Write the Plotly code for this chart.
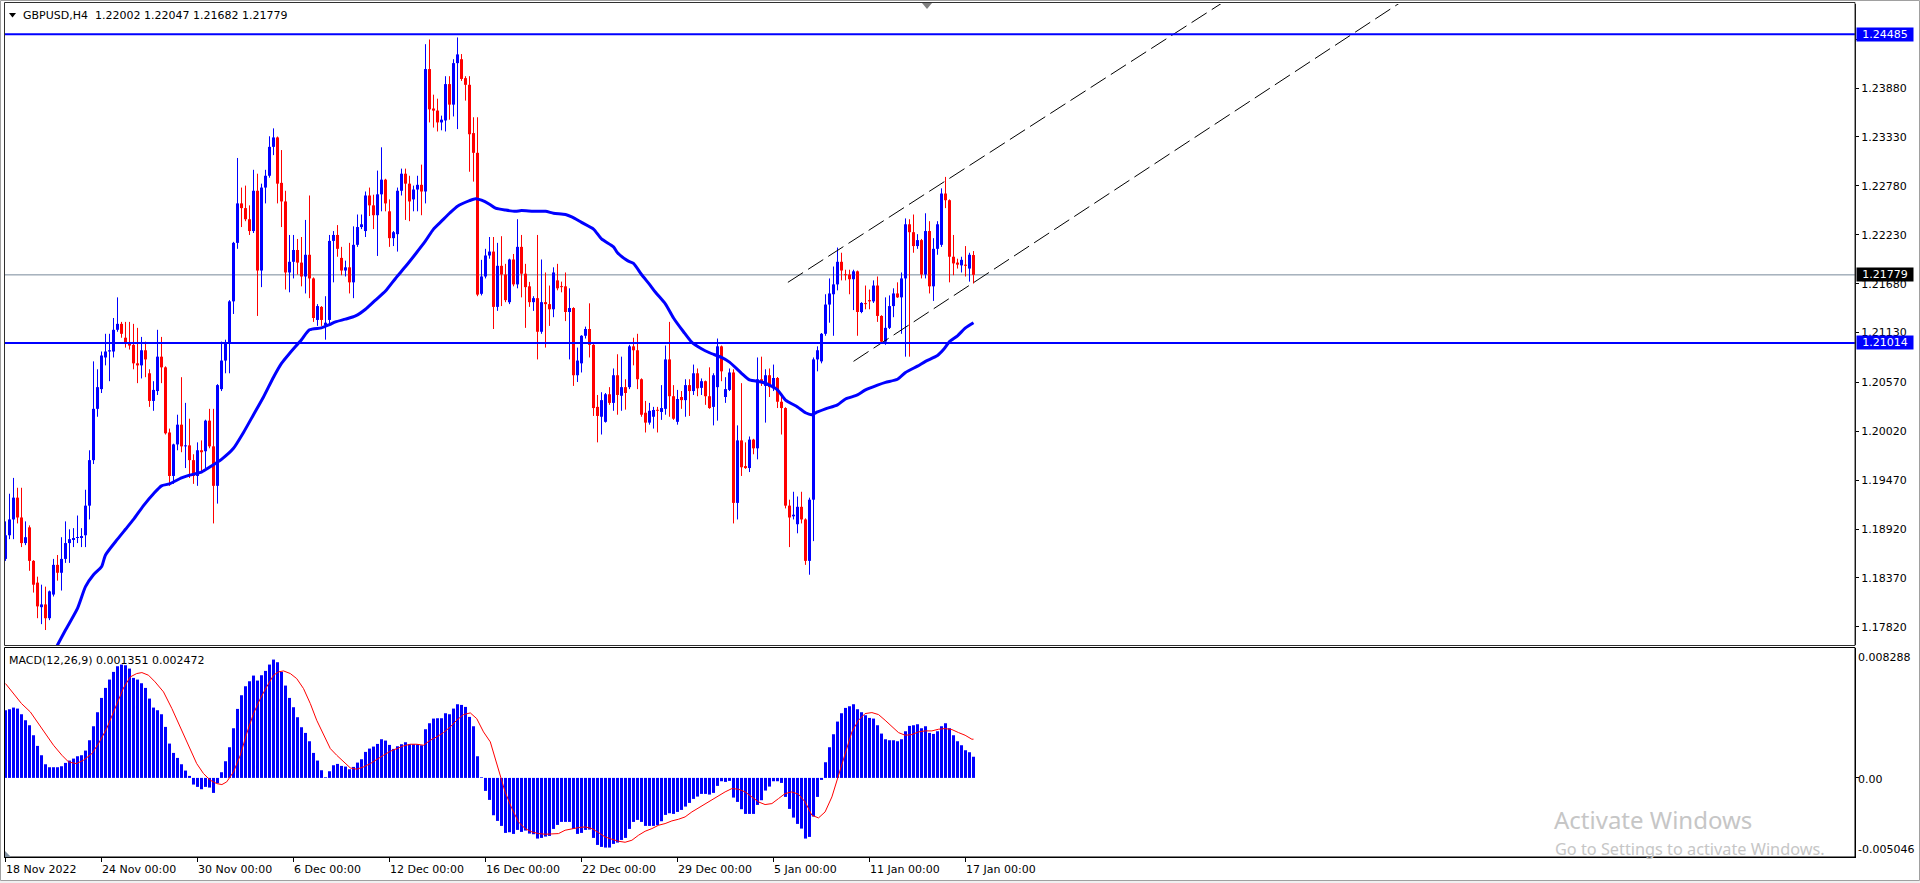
import plotly.graph_objects as go

# ---------------- data ----------------
symbol_title = "GBPUSD,H4\u00a0\u00a01.22002 1.22047 1.21682 1.21779"
macd_title = "MACD(12,26,9) 0.001351 0.002472"

opens = [
    1.18584, 1.18850, 1.19028, 1.19273, 1.19050, 1.18762, 1.18939, 1.18562, 1.18317, 1.18041,
    1.18072, 1.17917, 1.18183, 1.18517, 1.18428, 1.18584, 1.18762, 1.18797, 1.18819, 1.18819,
    1.18850, 1.19183, 1.19695, 1.20272, 1.20494, 1.20850, 1.20917, 1.20917, 1.21161, 1.21228,
    1.21072, 1.21006, 1.20992, 1.20784, 1.20761, 1.20931, 1.20672, 1.20361, 1.20472, 1.20859,
    1.20739, 1.20006, 1.19517, 1.19872, 1.20094, 1.19850, 1.19861, 1.19695, 1.19517, 1.19806,
    1.19795, 1.20139, 1.19850, 1.19406, 1.20494, 1.20815, 1.21006, 1.21481, 1.22139, 1.22583,
    1.22530, 1.22405, 1.22272, 1.22725, 1.21828, 1.22761, 1.22894, 1.23219, 1.23325, 1.22814,
    1.22605, 1.21806, 1.21926, 1.22059, 1.21917, 1.21761, 1.22005, 1.21739, 1.21272, 1.21419,
    1.21214, 1.21272, 1.22161, 1.22228, 1.21970, 1.21828, 1.21864, 1.21695, 1.22117, 1.22317,
    1.22272, 1.22672, 1.22561, 1.22450, 1.22685, 1.22850, 1.22494, 1.22192, 1.22237, 1.22725,
    1.22917, 1.22805, 1.22628, 1.22739, 1.22792, 1.22717, 1.24094, 1.23650, 1.23627, 1.23494,
    1.23516, 1.23925, 1.23694, 1.24161, 1.24205, 1.23992, 1.23917, 1.23374, 1.23152, 1.21566,
    1.21761, 1.21997, 1.22041, 1.21419, 1.21881, 1.21783, 1.21472, 1.21952, 1.21672, 1.22094,
    1.21792, 1.21650, 1.21472, 1.21517, 1.21139, 1.21472, 1.21450, 1.21392, 1.21717, 1.21650,
    1.21650, 1.21361, 1.21406, 1.20650, 1.20784, 1.21094, 1.21170, 1.20992, 1.20294, 1.20183,
    1.20126, 1.20436, 1.20339, 1.20650, 1.20419, 1.20516, 1.20516, 1.20975, 1.20931, 1.20605,
    1.20228, 1.20117, 1.20183, 1.20259, 1.20237, 1.20272, 1.20828, 1.20414, 1.20126, 1.20405,
    1.20370, 1.20539, 1.20472, 1.20672, 1.20508, 1.20583, 1.20414, 1.20294, 1.20516, 1.20975,
    1.20405, 1.20485, 1.20681, 1.19214, 1.19917, 1.19628, 1.19606, 1.19926, 1.19828, 1.20605,
    1.20530, 1.20650, 1.20503, 1.20619, 1.20352, 1.20281, 1.19183, 1.19063, 1.18974, 1.19170,
    1.19028, 1.18562, 1.19250, 1.20828, 1.20806, 1.21116, 1.21445, 1.21561, 1.21672, 1.21926,
    1.21783, 1.21783, 1.21730, 1.21819, 1.21361, 1.21459, 1.21495, 1.21481, 1.21659, 1.21317,
    1.21028, 1.21183, 1.21428, 1.21570, 1.21526, 1.21739, 1.22348, 1.22259, 1.22103, 1.22170,
    1.21783, 1.22272, 1.21650, 1.22072, 1.22117, 1.22694, 1.22619, 1.21983, 1.21917, 1.21886,
    1.21894, 1.21850, 1.22002]

highs = [
    1.19006, 1.19317, 1.19495, 1.19384, 1.19384, 1.19006, 1.18961, 1.18570, 1.18384, 1.18294,
    1.18272, 1.18228, 1.18584, 1.18628, 1.18828, 1.19006, 1.18917, 1.18930, 1.19072, 1.18930,
    1.19362, 1.19806, 1.20806, 1.20717, 1.20917, 1.21116, 1.21116, 1.21294, 1.21526, 1.21250,
    1.21250, 1.21250, 1.21228, 1.21183, 1.21081, 1.21028, 1.20717, 1.20583, 1.21161, 1.21081,
    1.20750, 1.20050, 1.19880, 1.20206, 1.20628, 1.20339, 1.20161, 1.19761, 1.19895, 1.19917,
    1.20150, 1.20272, 1.20272, 1.20550, 1.21028, 1.21050, 1.21495, 1.22150, 1.23094, 1.22761,
    1.22783, 1.22561, 1.22961, 1.22917, 1.22805, 1.22961, 1.23338, 1.23427, 1.23335, 1.23183,
    1.22725, 1.22228, 1.22228, 1.22183, 1.22205, 1.22397, 1.22672, 1.21750, 1.21450, 1.21428,
    1.21539, 1.22228, 1.22272, 1.22339, 1.22094, 1.21939, 1.22139, 1.22325, 1.22458, 1.22458,
    1.22717, 1.22761, 1.22681, 1.22952, 1.23214, 1.22860, 1.22628, 1.22272, 1.22761, 1.22974,
    1.22974, 1.22894, 1.22783, 1.22894, 1.23019, 1.24374, 1.24427, 1.23806, 1.23761, 1.23570,
    1.24014, 1.24014, 1.24205, 1.24450, 1.24263, 1.24014, 1.24014, 1.23552, 1.23552, 1.21948,
    1.22072, 1.22205, 1.22205, 1.22139, 1.22214, 1.21903, 1.21961, 1.22014, 1.22405, 1.22228,
    1.21903, 1.21700, 1.21539, 1.22228, 1.21952, 1.21806, 1.21659, 1.21864, 1.21903, 1.21703,
    1.21806, 1.21628, 1.21415, 1.20961, 1.21100, 1.21197, 1.21459, 1.21000, 1.20428, 1.20459,
    1.20450, 1.20516, 1.20726, 1.20886, 1.20859, 1.20605, 1.20992, 1.21072, 1.21116, 1.20615,
    1.20361, 1.20339, 1.20294, 1.20294, 1.20539, 1.20984, 1.21250, 1.20539, 1.20485, 1.20472,
    1.20605, 1.20605, 1.20770, 1.20726, 1.20614, 1.20590, 1.20739, 1.20672, 1.21063, 1.20984,
    1.20628, 1.20726, 1.20717, 1.20086, 1.20561, 1.19895, 1.19961, 1.19935, 1.20850, 1.20859,
    1.20717, 1.20726, 1.20770, 1.20630, 1.20428, 1.20290, 1.19250, 1.19339, 1.19286, 1.19339,
    1.19040, 1.19273, 1.20850, 1.20975, 1.21125, 1.21561, 1.21739, 1.21873, 1.22086, 1.22028,
    1.21837, 1.21837, 1.21837, 1.21828, 1.21472, 1.21659, 1.21614, 1.21717, 1.21761, 1.21325,
    1.21526, 1.21548, 1.21628, 1.21695, 1.21806, 1.22414, 1.22405, 1.22458, 1.22237, 1.22183,
    1.22472, 1.22383, 1.22192, 1.22383, 1.22752, 1.22881, 1.22628, 1.22228, 1.21961, 1.21983,
    1.22103, 1.22028, 1.22047]

lows = [
    1.18562, 1.18806, 1.18806, 1.18983, 1.18717, 1.18739, 1.18450, 1.18205, 1.17917, 1.17850,
    1.17784, 1.17895, 1.18161, 1.18339, 1.18228, 1.18539, 1.18539, 1.18717, 1.18762, 1.18717,
    1.18717, 1.19028, 1.19651, 1.20183, 1.20450, 1.20761, 1.20583, 1.20850, 1.21139, 1.21072,
    1.20961, 1.20939, 1.20717, 1.20561, 1.20614, 1.20628, 1.20294, 1.20250, 1.20428, 1.20561,
    1.19983, 1.19406, 1.19428, 1.19806, 1.19784, 1.19606, 1.19495, 1.19428, 1.19406, 1.19561,
    1.19606, 1.19828, 1.18983, 1.19206, 1.20472, 1.20672, 1.20672, 1.21339, 1.22072, 1.22317,
    1.22383, 1.22228, 1.22250, 1.21317, 1.21641, 1.22583, 1.22872, 1.23126, 1.22583, 1.22317,
    1.21614, 1.21583, 1.21739, 1.21783, 1.21650, 1.21570, 1.21517, 1.21250, 1.21205, 1.21205,
    1.21050, 1.21205, 1.21695, 1.21983, 1.21775, 1.21761, 1.21570, 1.21517, 1.22094, 1.22294,
    1.22205, 1.22441, 1.22294, 1.21992, 1.22494, 1.22494, 1.22094, 1.22103, 1.22041, 1.22672,
    1.22397, 1.22383, 1.22494, 1.22494, 1.22450, 1.22583, 1.23494, 1.23436, 1.23392, 1.23405,
    1.23392, 1.23525, 1.23561, 1.23419, 1.23961, 1.23739, 1.22939, 1.22828, 1.21539, 1.21548,
    1.21739, 1.21961, 1.21170, 1.21374, 1.21428, 1.21472, 1.21450, 1.21650, 1.21628, 1.21526,
    1.21183, 1.21419, 1.21374, 1.20828, 1.21116, 1.20961, 1.21205, 1.21303, 1.21605, 1.21583,
    1.21259, 1.20828, 1.20530, 1.20574, 1.20681, 1.21063, 1.20850, 1.20192, 1.19895, 1.19983,
    1.20117, 1.20317, 1.20250, 1.20206, 1.20250, 1.20263, 1.20494, 1.20761, 1.20494, 1.20183,
    1.20006, 1.20094, 1.20050, 1.20006, 1.20148, 1.20206, 1.20183, 1.20148, 1.20094, 1.20272,
    1.20183, 1.20192, 1.20428, 1.20414, 1.20428, 1.20317, 1.20272, 1.20086, 1.20139, 1.20583,
    1.20339, 1.20472, 1.18983, 1.19028, 1.19517, 1.19597, 1.19561, 1.19761, 1.19704, 1.20530,
    1.20117, 1.20405, 1.20472, 1.20281, 1.19983, 1.19152, 1.18717, 1.19028, 1.18872, 1.18983,
    1.18517, 1.18406, 1.18784, 1.20694, 1.20784, 1.21094, 1.21241, 1.21094, 1.21605, 1.21717,
    1.21717, 1.21561, 1.21383, 1.21094, 1.21348, 1.21392, 1.21392, 1.21463, 1.21250, 1.21020,
    1.20992, 1.21170, 1.21303, 1.21520, 1.21116, 1.20859, 1.20859, 1.22028, 1.22072, 1.21739,
    1.21739, 1.21570, 1.21486, 1.22005, 1.22094, 1.22530, 1.21695, 1.21775, 1.21850, 1.21806,
    1.21761, 1.21703, 1.21682]

closes = [
    1.18850, 1.19028, 1.19273, 1.19050, 1.18762, 1.18828, 1.18562, 1.18294, 1.18050, 1.18072,
    1.17917, 1.18219, 1.18517, 1.18428, 1.18584, 1.18762, 1.18806, 1.18819, 1.18825, 1.18841,
    1.19183, 1.19695, 1.20272, 1.20516, 1.20872, 1.20917, 1.20931, 1.21161, 1.21228, 1.21116,
    1.21006, 1.20984, 1.20784, 1.20761, 1.20931, 1.20828, 1.20361, 1.20485, 1.20859, 1.20739,
    1.19997, 1.19517, 1.19872, 1.20094, 1.19850, 1.19861, 1.19695, 1.19517, 1.19806, 1.19784,
    1.20139, 1.19850, 1.19406, 1.20539, 1.20815, 1.21006, 1.21481, 1.22139, 1.22583, 1.22530,
    1.22405, 1.22272, 1.22725, 1.21828, 1.22761, 1.22894, 1.23219, 1.23325, 1.22805, 1.22605,
    1.21806, 1.21926, 1.22059, 1.21917, 1.21761, 1.22005, 1.21739, 1.21294, 1.21428, 1.21272,
    1.21241, 1.22161, 1.22228, 1.22072, 1.21828, 1.21864, 1.21695, 1.22117, 1.22317, 1.22348,
    1.22672, 1.22561, 1.22450, 1.22685, 1.22850, 1.22583, 1.22192, 1.22259, 1.22725, 1.22917,
    1.22805, 1.22605, 1.22739, 1.22792, 1.22717, 1.24094, 1.23641, 1.23627, 1.23494, 1.23525,
    1.23925, 1.23694, 1.24161, 1.24259, 1.23983, 1.23917, 1.23361, 1.23152, 1.21557, 1.21761,
    1.21997, 1.22041, 1.21419, 1.21881, 1.21783, 1.21495, 1.21952, 1.21672, 1.22094, 1.21792,
    1.21641, 1.21472, 1.21517, 1.21139, 1.21472, 1.21450, 1.21392, 1.21806, 1.21628, 1.21641,
    1.21361, 1.21406, 1.20650, 1.20815, 1.21094, 1.21170, 1.20992, 1.20281, 1.20192, 1.20370,
    1.20436, 1.20339, 1.20650, 1.20428, 1.20516, 1.20450, 1.20975, 1.20931, 1.20605, 1.20206,
    1.20117, 1.20250, 1.20259, 1.20250, 1.20281, 1.20828, 1.20414, 1.20161, 1.20383, 1.20370,
    1.20539, 1.20472, 1.20672, 1.20503, 1.20583, 1.20414, 1.20281, 1.20650, 1.20975, 1.20694,
    1.20494, 1.20681, 1.19214, 1.19917, 1.19615, 1.19606, 1.19926, 1.19828, 1.20605, 1.20561,
    1.20650, 1.20516, 1.20619, 1.20352, 1.20281, 1.19183, 1.19050, 1.19081, 1.19170, 1.19028,
    1.18562, 1.19250, 1.20828, 1.20931, 1.21116, 1.21445, 1.21570, 1.21672, 1.21926, 1.21828,
    1.21775, 1.21730, 1.21819, 1.21361, 1.21463, 1.21450, 1.21481, 1.21659, 1.21317, 1.21028,
    1.21183, 1.21428, 1.21570, 1.21526, 1.21739, 1.22348, 1.22259, 1.22103, 1.22170, 1.21783,
    1.22272, 1.21650, 1.22072, 1.22348, 1.22694, 1.22619, 1.21983, 1.21908, 1.21894, 1.21948,
    1.21881, 1.22005, 1.21779]

# moving average, read as (bar index, price) points
ma_readings = [
    (10, 1.17360), (13, 1.17615), (15, 1.17784), (18, 1.18028), (20, 1.18272), (22, 1.18406),
    (24, 1.18495), (25, 1.18628), (28, 1.18806), (30, 1.18917), (32, 1.19028), (34.5, 1.19183),
    (37, 1.19317), (39, 1.19406), (41, 1.19428), (44, 1.19495), (46, 1.19526), (49, 1.19561),
    (51, 1.19615), (54, 1.19704), (57, 1.19828), (59.5, 1.20006), (62, 1.20206), (64.5, 1.20405),
    (67, 1.20628), (69, 1.20784), (71, 1.20895), (74, 1.21050), (76, 1.21161), (79, 1.21183),
    (81, 1.21219), (82.5, 1.21250), (85, 1.21281), (87.5, 1.21317), (90, 1.21392), (92.5, 1.21495),
    (95, 1.21597), (97.5, 1.21739), (100, 1.21873), (102.5, 1.22014), (105, 1.22161), (107, 1.22294),
    (109, 1.22383), (111, 1.22472), (113, 1.22552), (116, 1.22614), (117.5, 1.22636), (119, 1.22619),
    (121, 1.22574), (122.5, 1.22530), (125, 1.22508), (127.5, 1.22494), (129, 1.22503), (132, 1.22494),
    (135, 1.22494), (137, 1.22472), (140, 1.22458), (141.7, 1.22428), (144, 1.22370), (147, 1.22294),
    (149, 1.22183), (152, 1.22094), (153, 1.22028), (155.5, 1.21939), (157, 1.21908), (159, 1.21783),
    (161, 1.21672), (162.5, 1.21583), (165, 1.21450), (167, 1.21294), (169.5, 1.21139), (171.6, 1.21019),
    (174, 1.20948), (176, 1.20903), (179, 1.20850), (181, 1.20797), (184, 1.20672), (186, 1.20597),
    (189, 1.20574), (191, 1.20539), (193, 1.20485), (195, 1.20370), (198, 1.20294), (200, 1.20228),
    (201.5, 1.20206), (203, 1.20237), (205, 1.20272), (208, 1.20317), (210, 1.20383), (213, 1.20428),
    (215, 1.20485), (218, 1.20539), (220, 1.20570), (223, 1.20605), (225, 1.20681), (228, 1.20752),
    (230, 1.20806), (233, 1.20872), (234.5, 1.20939), (236, 1.21028), (238, 1.21094), (240, 1.21183),
    (242, 1.21241)]

resistance_level = 1.24485
support_level = 1.21014
bid_price = 1.21779

# channel (dashed trend rays), two read anchors each: (bar index, price)
channel_upper = [(195.6, 1.21695), (242.4, 1.23050)]
channel_lower = [(212.0, 1.20806), (243.6, 1.21739)]

macd_hist = [
    0.004317, 0.004381, 0.004487, 0.004423, 0.004062, 0.003679, 0.003360, 0.002722, 0.002042, 0.001446,
    0.000872, 0.000681, 0.000681, 0.000681, 0.000744, 0.000957, 0.001106, 0.001233, 0.001382, 0.001446,
    0.001744, 0.002403, 0.003296, 0.004190, 0.005104, 0.005742, 0.006274, 0.006763, 0.007124, 0.007231,
    0.007188, 0.006975, 0.006380, 0.006274, 0.006040, 0.005742, 0.005061, 0.004487, 0.004317, 0.004062,
    0.003254, 0.002190, 0.001595, 0.001276, 0.000872, 0.000468, 0.000128, -0.000425, -0.000574, -0.000723,
    -0.000574, -0.000617, -0.000957, -0.000340, 0.000362, 0.001063, 0.001957, 0.003169, 0.004402, 0.005274,
    0.005848, 0.006167, 0.006529, 0.006210, 0.006550, 0.006827, 0.007231, 0.007550, 0.007380, 0.006763,
    0.005891, 0.005104, 0.004509, 0.003871, 0.003233, 0.002871, 0.002339, 0.001595, 0.001106, 0.000489,
    0.000043, 0.000425, 0.000808, 0.000893, 0.000766, 0.000723, 0.000553, 0.000702, 0.000978, 0.001191,
    0.001659, 0.001871, 0.001999, 0.002169, 0.002467, 0.002382, 0.002105, 0.001850, 0.002020, 0.002148,
    0.002276, 0.002148, 0.002148, 0.002148, 0.002084, 0.003105, 0.003488, 0.003785, 0.003807, 0.003807,
    0.004126, 0.004062, 0.004423, 0.004700, 0.004657, 0.004530, 0.003892, 0.003296, 0.001382, 0.000043,
    -0.000829, -0.001404, -0.002382, -0.002743, -0.003062, -0.003509, -0.003466, -0.003573, -0.003318, -0.003445,
    -0.003360, -0.003552, -0.003594, -0.003871, -0.003828, -0.003743, -0.003700, -0.003254, -0.002999, -0.002807,
    -0.002807, -0.002807, -0.003254, -0.003573, -0.003509, -0.003318, -0.003296, -0.003828, -0.004275, -0.004402,
    -0.004445, -0.004445, -0.004211, -0.004126, -0.003956, -0.003828, -0.003254, -0.002807, -0.002680, -0.002807,
    -0.003062, -0.003062, -0.003062, -0.003020, -0.002765, -0.002361, -0.002254, -0.002297, -0.002169, -0.002042,
    -0.001829, -0.001595, -0.001340, -0.001191, -0.001021, -0.001021, -0.001063, -0.000957, -0.000510, -0.000213,
    -0.000255, -0.000191, -0.001255, -0.001531, -0.001999, -0.002297, -0.002297, -0.002297, -0.001723, -0.001425,
    -0.000808, -0.000553, -0.000213, -0.000213, -0.000319, -0.001212, -0.001978, -0.002531, -0.002935, -0.003233,
    -0.003871, -0.003764, -0.002467, -0.001212, -0.000128, 0.001000, 0.001957, 0.002786, 0.003594, 0.004126,
    0.004466, 0.004572, 0.004700, 0.004381, 0.004190, 0.003998, 0.003828, 0.003785, 0.003360, 0.002829,
    0.002467, 0.002403, 0.002403, 0.002339, 0.002467, 0.002977, 0.003318, 0.003360, 0.003424, 0.003169,
    0.003296, 0.002871, 0.002807, 0.002977, 0.003296, 0.003488, 0.003169, 0.002722, 0.002339, 0.002084,
    0.001765, 0.001638, 0.001351]

macd_signal_readings = [
    (0, 0.006019), (2, 0.005381), (4, 0.004743), (6.2, 0.004211), (8.25, 0.003467), (9.9, 0.002892),
    (12, 0.002084), (14.1, 0.001446), (15.75, 0.001021), (17.7, 0.000914), (19.5, 0.001127),
    (21.6, 0.001552), (23.25, 0.002190), (25.3, 0.003148), (27.4, 0.004423), (29.5, 0.005742),
    (31.2, 0.006444), (32.8, 0.006657), (34.1, 0.006720), (35.75, 0.006550), (37.4, 0.006125),
    (39.5, 0.005487), (41.6, 0.004423), (43.7, 0.003254), (45.75, 0.002084), (47.8, 0.000914),
    (49.5, 0.000276), (51.2, -0.000149), (52.8, -0.000362), (54.1, -0.000425), (55.3, -0.000255),
    (57, 0.000383), (58.7, 0.001446), (60.3, 0.002829), (62, 0.004105), (63.7, 0.005061),
    (65.3, 0.005806), (67, 0.006550), (68.25, 0.006763), (69.5, 0.006827), (71.2, 0.006657),
    (72.8, 0.006337), (74.5, 0.005700), (76.2, 0.004743), (77.8, 0.003679), (79.5, 0.002722),
    (81.2, 0.001871), (82.8, 0.001446), (84.5, 0.001021), (86.2, 0.000638), (87.8, 0.000553),
    (89.5, 0.000702), (91.2, 0.000914), (92.8, 0.001191), (94.5, 0.001446), (96.2, 0.001701),
    (97.8, 0.001871), (99.5, 0.002042), (101.2, 0.002148), (102.8, 0.002148), (104.5, 0.002084),
    (106.2, 0.002403), (107.8, 0.002616), (109.5, 0.002892), (111.2, 0.003254), (112.8, 0.003679),
    (114.5, 0.004041), (116.2, 0.004147), (117.8, 0.003785), (119.5, 0.002935), (121.2, 0.002297),
    (122.4, 0.001233), (123.7, 0.000170), (124.9, -0.000893), (126.6, -0.001957), (128.25, -0.002807),
    (129.9, -0.003233), (131.6, -0.003445), (133.25, -0.003552), (134.9, -0.003594), (136.6, -0.003573),
    (138.25, -0.003552), (139.9, -0.003339), (141.6, -0.003233), (143.25, -0.003169), (144.9, -0.003126),
    (146.6, -0.003233), (148.25, -0.003488), (149.9, -0.003764), (151.6, -0.003913), (153.25, -0.004041),
    (154.9, -0.004105), (156.6, -0.003977), (158.25, -0.003658), (159.9, -0.003403), (161.6, -0.003233),
    (163.25, -0.003020), (164.9, -0.002914), (166.6, -0.002743), (168.25, -0.002637), (169.9, -0.002488),
    (171.6, -0.002169), (173.25, -0.001914), (174.9, -0.001638), (176.6, -0.001425), (178.25, -0.001148),
    (179.9, -0.000893), (181.6, -0.000681), (183.25, -0.000723), (184.9, -0.000893), (186.6, -0.001212),
    (188.25, -0.001531), (189.9, -0.001701), (191.6, -0.001638), (193.25, -0.001319), (194.9, -0.001000),
    (196.6, -0.000893), (198.25, -0.001042), (199.9, -0.001531), (201.6, -0.002382), (203.25, -0.002552),
    (204.9, -0.002169), (206.6, -0.001212), (208.25, 0.000170), (209.9, 0.001659), (211.6, 0.002935),
    (213.25, 0.003679), (214.9, 0.004105), (216.6, 0.004168), (218.25, 0.004041), (219.9, 0.003679),
    (221.6, 0.003254), (223.25, 0.002892), (224.9, 0.002722), (226.6, 0.002765), (228.25, 0.002935),
    (229.9, 0.002999), (231.6, 0.002999), (233.25, 0.003105), (234.9, 0.003148), (236.6, 0.003084),
    (238.25, 0.002892), (239.9, 0.002722), (241.6, 0.002467), (242, 0.002472)]

time_tick_bars = [0, 24, 48, 72, 96, 120, 144, 168, 192, 216, 240]
time_tick_labels = ["18 Nov 2022", "24 Nov 00:00", "30 Nov 00:00", "6 Dec 00:00", "12 Dec 00:00",
                    "16 Dec 00:00", "22 Dec 00:00", "29 Dec 00:00", "5 Jan 00:00", "11 Jan 00:00",
                    "17 Jan 00:00"]
# the 1.24430 grid label sits hidden behind the 1.24485 level box in the reference
price_ticks = [1.24430, 1.23880, 1.23330, 1.22780, 1.22230, 1.21680, 1.21130, 1.20570,
               1.20020, 1.19470, 1.18920, 1.18370, 1.17820]
price_tick_labels = ["", "1.23880", "1.23330", "1.22780", "1.22230", "1.21680", "1.21130",
                     "1.20570", "1.20020", "1.19470", "1.18920", "1.18370", "1.17820"]
macd_max_label, macd_zero_label, macd_min_label = "0.008288", "0.00", "-0.005046"
macd_max, macd_min = 0.008288, -0.005046

# ---------------- layout geometry ----------------
W, H = 1920, 883
PL, PR, PT, PB = 4, 1855, 4, 857
PRICE_BOTTOM_PX, MACD_TOP_PX = 645, 648


def fx(px):
    return (px - PL) / (PR - PL)


def fy(py):
    return (PB - py) / (PB - PT)


BAR_PX = 4.0
X_MIN = -0.375
X_MAX = X_MIN + (PR - PL) / BAR_PX
PRICE_RANGE = [1.176155, 1.24826]
MACD_RANGE = [macd_min, macd_max]
FONT = "DejaVu Sans"
BLUE, RED = "#0000FF", "#FF0000"

n = len(closes)
idx = list(range(n))
one_px = (PRICE_RANGE[1] - PRICE_RANGE[0]) / (PRICE_BOTTOM_PX - PT)

fig = go.Figure()

# candles
for bull, color in ((True, BLUE), (False, RED)):
    sel = [i for i in idx if (closes[i] >= opens[i]) == bull]
    wx, wy = [], []
    for i in sel:
        wx += [i, i, None]
        wy += [min(lows[i], opens[i], closes[i]), max(highs[i], opens[i], closes[i]), None]
    fig.add_trace(go.Scatter(x=wx, y=wy, mode="lines", line=dict(color=color, width=1),
                             hoverinfo="skip", showlegend=False, xaxis="x", yaxis="y"))
    fig.add_trace(go.Bar(x=sel,
                         y=[max(abs(closes[i] - opens[i]), one_px) for i in sel],
                         base=[min(opens[i], closes[i]) for i in sel],
                         width=0.75, marker=dict(color=color, line=dict(width=0)),
                         showlegend=False, xaxis="x", yaxis="y"))

# moving average
fig.add_trace(go.Scatter(x=[p[0] for p in ma_readings], y=[p[1] for p in ma_readings],
                         mode="lines", line=dict(color=BLUE, width=3, shape="spline", smoothing=0.6),
                         showlegend=False, xaxis="x", yaxis="y"))

# channel rays
for (a, b) in (channel_upper, channel_lower):
    slope = (b[1] - a[1]) / (b[0] - a[0])
    x_end = a[0] + (PRICE_RANGE[1] + 0.002 - a[1]) / slope
    fig.add_trace(go.Scatter(x=[a[0], b[0], x_end], y=[a[1], b[1], a[1] + slope * (x_end - a[0])],
                             mode="lines", line=dict(color="#000000", width=1, dash="18px,6px"),
                             showlegend=False, xaxis="x", yaxis="y"))

# MACD
fig.add_trace(go.Bar(x=idx, y=macd_hist, width=0.75, marker=dict(color=BLUE, line=dict(width=0)),
                     showlegend=False, xaxis="x", yaxis="y2"))
fig.add_trace(go.Scatter(x=[p[0] for p in macd_signal_readings], y=[p[1] for p in macd_signal_readings],
                         mode="lines", line=dict(color=RED, width=1),
                         showlegend=False, xaxis="x", yaxis="y2"))

shapes = [
    dict(type="line", xref="paper", yref="y", x0=0, x1=1, y0=bid_price, y1=bid_price,
         line=dict(color="#778899", width=1), layer="below"),
    dict(type="line", xref="paper", yref="y", x0=0, x1=1, y0=resistance_level, y1=resistance_level,
         line=dict(color=BLUE, width=2), layer="above"),
    dict(type="line", xref="paper", yref="y", x0=0, x1=1, y0=support_level, y1=support_level,
         line=dict(color=BLUE, width=2), layer="above"),
    dict(type="rect", xref="paper", yref="paper", x0=fx(0.5), x1=fx(1919.5), y0=fy(880.5), y1=fy(0.5),
         line=dict(color="#a0a0a0", width=1), layer="above"),
    dict(type="rect", xref="paper", yref="paper", x0=fx(0), x1=fx(1920), y0=fy(883), y1=fy(881),
         line=dict(width=0), fillcolor="#f0f0f0", layer="above"),
    dict(type="rect", xref="paper", yref="paper", x0=fx(4.5), x1=fx(1855), y0=fy(PRICE_BOTTOM_PX + 0.5),
         y1=fy(2.5), line=dict(color="#303030", width=1), layer="above"),
    dict(type="rect", xref="paper", yref="paper", x0=fx(4.5), x1=fx(1855), y0=fy(PB), y1=fy(MACD_TOP_PX - 0.5),
         line=dict(color="#000000", width=1), layer="above"),
    dict(type="path", xref="paper", yref="paper",
         path=f"M {fx(922)},{fy(3)} L {fx(932)},{fy(3)} L {fx(927)},{fy(9)} Z",
         fillcolor="#808080", line=dict(width=0), layer="above"),
    dict(type="path", xref="paper", yref="paper",
         path=f"M {fx(9)},{fy(13)} L {fx(16)},{fy(13)} L {fx(12.5)},{fy(17.5)} Z",
         fillcolor="#000000", line=dict(width=0), layer="above"),
    dict(type="path", xref="paper", yref="paper",
         path=f"M {fx(5)},{fy(851)} L {fx(5)},{fy(857)} L {fx(11)},{fy(857)} Z",
         fillcolor="#8090a0", line=dict(width=0), layer="above"),
]

font11 = dict(family=FONT, size=11, color="#000000")
annotations = [
    dict(xref="paper", yref="paper", x=fx(22), y=fy(15.3), text=symbol_title, showarrow=False,
         xanchor="left", yanchor="middle", font=font11, borderpad=0),
    dict(xref="paper", yref="paper", x=fx(8), y=fy(660), text=macd_title, showarrow=False,
         xanchor="left", yanchor="middle", font=font11, borderpad=0),
]
for b, t in zip(time_tick_bars, time_tick_labels):
    annotations.append(dict(xref="x", yref="paper", x=b, y=fy(869.5), text=t, showarrow=False,
                            xanchor="left", yanchor="middle", font=font11, borderpad=0, xshift=-1))
for level, bg in ((resistance_level, BLUE), (support_level, BLUE), (bid_price, "#000000")):
    annotations.append(dict(xref="paper", yref="y", x=1, y=level, text=f"{level:.5f}", showarrow=False,
                            xanchor="left", yanchor="middle", xshift=1, bgcolor=bg, borderpad=1,
                            width=54, height=11, align="center",
                            font=dict(family=FONT, size=11, color="#FFFFFF")))
for txt, py in ((macd_max_label, 657.7), (macd_zero_label, 779), (macd_min_label, 849.3)):
    annotations.append(dict(xref="paper", yref="paper", x=fx(1857), y=fy(py), text=txt, showarrow=False,
                            xanchor="left", yanchor="middle", font=font11, borderpad=0))
annotations.append(dict(xref="paper", yref="paper", x=fx(1553), y=fy(819), text="Activate Windows",
                        showarrow=False, xanchor="left", yanchor="middle", borderpad=0,
                        font=dict(family="Noto Sans", size=24, color="#c6c6c6")))
annotations.append(dict(xref="paper", yref="paper", x=fx(1554), y=fy(848.5),
                        text="Go to Settings to activate Windows.", showarrow=False,
                        xanchor="left", yanchor="middle", borderpad=0,
                        font=dict(family="Noto Sans", size=16.3, color="#c6c6c6")))

fig.update_layout(
    width=W, height=H,
    margin=dict(l=PL, r=W - PR, t=PT, b=H - PB, pad=0),
    paper_bgcolor="#FFFFFF", plot_bgcolor="#FFFFFF",
    barmode="overlay", showlegend=False, hovermode=False,
    font=dict(family=FONT, size=11, color="#000000"),
    xaxis=dict(range=[X_MIN, X_MAX], anchor="y2", showgrid=False, zeroline=False,
               tickvals=time_tick_bars, ticktext=[""] * len(time_tick_bars), showticklabels=False,
               ticks="outside", ticklen=4, tickcolor="#000000", showline=True, linecolor="#000000",
               linewidth=1),
    yaxis=dict(domain=[fy(PRICE_BOTTOM_PX), 1.0], range=PRICE_RANGE, side="right", anchor="x",
               showgrid=False, zeroline=False, tickvals=price_ticks, ticktext=price_tick_labels,
               ticks="outside", ticklen=3, tickcolor="#000000", showline=True, linecolor="#000000",
               linewidth=1, tickfont=font11),
    yaxis2=dict(domain=[0.0, fy(MACD_TOP_PX)], range=MACD_RANGE, side="right", anchor="x",
                showgrid=False, zeroline=False, tickvals=[0.0], showticklabels=False,
                ticks="outside", ticklen=3, tickcolor="#000000", showline=True, linecolor="#000000",
                linewidth=1),
    shapes=shapes,
    annotations=annotations,
)

fig.write_html("out.html", config={"displayModeBar": False, "staticPlot": True},
               post_script="document.body.style.margin='0';document.body.style.overflow='hidden';")
